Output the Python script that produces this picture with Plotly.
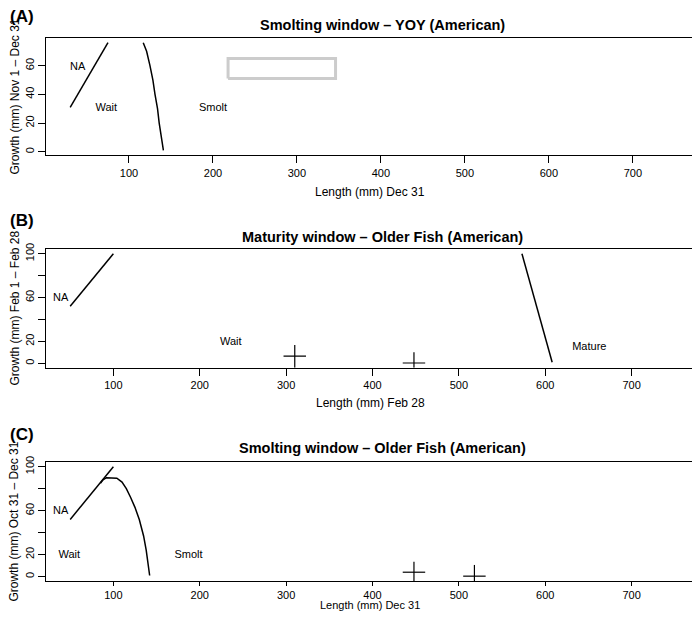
import plotly.graph_objects as go

# ---- data ----
# Panel A: smolting window, YOY
a_na_x = [30, 75]
a_na_y = [31, 76]
a_smolt_x = [117, 121, 125, 128.5, 131, 134, 136, 138.5, 141]
a_smolt_y = [76, 70, 60, 50, 40, 30, 20, 10, 1]
a_box_x = [218, 346, 346, 218, 218]
a_box_y = [51, 51, 65, 65, 51]
a_lab = ["NA", "Wait", "Smolt"]
a_lab_x = [39, 73, 200]
a_lab_y = [59, 30, 30]

# Panel B: maturity window, older fish
b_na_x = [50, 100]
b_na_y = [52, 100]
b_mat_x = [573, 608]
b_mat_y = [100, 1]
b_pt_x = [310, 448]
b_pt_y = [6.5, 0.3]
b_pt_xerr = [13, 13]
b_pt_yhi = [16.7, 10]
b_pt_ylo = [-4, -4]
b_lab = ["NA", "Wait", "Mature"]
b_lab_x = [39, 236, 651]
b_lab_y = [59.5, 19, 15]

# Panel C: smolting window, older fish
c_na_x = [50, 100]
c_na_y = [52, 100]
c_smolt_x = [85, 88, 92, 100, 104, 110, 115, 120, 125, 130, 135, 138, 140, 142]
c_smolt_y = [85, 88, 90, 90, 89.5, 86, 80, 72, 63, 52, 37, 24, 12, 1]
c_pt_x = [448, 518]
c_pt_y = [4, 0.4]
c_pt_xerr = [13, 13]
c_pt_yhi = [13.6, 10.6]
c_pt_ylo = [-4, -4]
c_lab = ["NA", "Wait", "Smolt"]
c_lab_x = [39, 49, 187]
c_lab_y = [59.5, 19, 19]

x_ticks = [100, 200, 300, 400, 500, 600, 700]

FONT = "Liberation Sans, Arial, Helvetica, sans-serif"
# page body keeps its 8px margin, so the figure is sized to fill the window exactly
OFF = 8
W, H = 700 - OFF, 621 - 2 * OFF


def px(x):
    return (x - OFF) / W


def py(y):
    return 1 - (y - OFF) / H


fig = go.Figure()


def line(x, y, ax, color="black", width=1.5):
    fig.add_trace(go.Scatter(x=x, y=y, mode="lines", xaxis="x" + ax, yaxis="y" + ax,
                             line=dict(color=color, width=width), showlegend=False,
                             hoverinfo="skip"))


def labels(x, y, t, ax):
    fig.add_trace(go.Scatter(x=x, y=y, text=t, mode="text", xaxis="x" + ax, yaxis="y" + ax,
                             textfont=dict(family=FONT, size=11, color="black"),
                             showlegend=False, hoverinfo="skip"))


def crosses(x, y, xerr, yhi, ylo, ax):
    fig.add_trace(go.Scatter(
        x=x, y=y, mode="markers", xaxis="x" + ax, yaxis="y" + ax,
        marker=dict(size=1, color="rgba(0,0,0,0)"), showlegend=False,
        error_x=dict(type="data", array=xerr, color="black", thickness=1.2, width=0),
        error_y=dict(type="data", symmetric=False,
                     array=[h - v for h, v in zip(yhi, y)],
                     arrayminus=[v - l for v, l in zip(y, ylo)],
                     color="black", thickness=1.2, width=0)))


# panel A
line(a_na_x, a_na_y, "")
line(a_smolt_x, a_smolt_y, "")
line(a_box_x, a_box_y, "", color="#cccccc", width=3)
labels(a_lab_x, a_lab_y, a_lab, "")
# panel B
line(b_na_x, b_na_y, "2")
line(b_mat_x, b_mat_y, "2")
crosses(b_pt_x, b_pt_y, b_pt_xerr, b_pt_yhi, b_pt_ylo, "2")
labels(b_lab_x, b_lab_y, b_lab, "2")
# panel C
line(c_na_x, c_na_y, "3")
line(c_smolt_x, c_smolt_y, "3")
crosses(c_pt_x, c_pt_y, c_pt_xerr, c_pt_yhi, c_pt_ylo, "3")
labels(c_lab_x, c_lab_y, c_lab, "3")

axis_common = dict(showline=True, mirror=True, linecolor="black", linewidth=1.2,
                   ticks="outside", ticklen=7, tickwidth=1.2, tickcolor="black",
                   showgrid=False, zeroline=False, automargin=False,
                   tickfont=dict(family=FONT, size=11, color="black"))

xdom = [px(46), px(699)]
panels = [
    ("", [py(155.3), py(38)], [1.2, 778.8], [-2.5, 79.3], [0, 20, 40, 60], ["0", "20", "40", "60"], 7),
    ("2", [py(367.7), py(249.3)], [22, 778], [-4, 104], [0, 20, 40, 60, 80, 100],
     ["0", "20", "", "60", "", "100"], 7),
    ("3", [py(581), py(462.3)], [22, 778], [-4, 104], [0, 20, 40, 60, 80, 100],
     ["0", "20", "", "60", "", "100"], 4),
]
layout = dict(width=W, height=H, margin=dict(l=0, r=0, t=0, b=0, pad=0),
              paper_bgcolor="white", plot_bgcolor="white", showlegend=False)
for ax, ydom, xr, yr, yv, yt, xtl in panels:
    n = ax if ax else ""
    layout["xaxis" + n] = dict(axis_common, domain=xdom, range=xr, tickvals=x_ticks,
                               ticklen=xtl, anchor="y" + n)
    layout["yaxis" + n] = dict(axis_common, domain=ydom, range=yr, tickvals=yv, ticktext=yt,
                               tickangle=-90, anchor="x" + n)
fig.update_layout(**layout)

titles = [
    ("Smolting window \u2013 YOY (American)", 25),
    ("Maturity window \u2013 Older Fish (American)", 236.7),
    ("Smolting window \u2013 Older Fish (American)", 448.3),
]
tags = [("(A)", 17), ("(B)", 220), ("(C)", 434)]
xtitles = [("Length (mm) Dec 31", 192, 12), ("Length (mm) Feb 28", 403, 12),
           ("Length (mm) Dec 31", 605, 11)]
ytitles = [("Growth (mm) Nov 1 \u2013 Dec 31", 96.5), ("Growth (mm) Feb 1 \u2013 Feb 28", 308.5),
           ("Growth (mm) Oct 31 \u2013 Dec 31", 521.6)]

ann = []
base = dict(xref="paper", yref="paper", showarrow=False, xanchor="center", yanchor="middle")
for t, y in titles:
    ann.append(dict(base, text="<b>%s</b>" % t, x=px(382), y=py(y),
                    font=dict(family=FONT, size=14.5, color="black")))
for t, y in tags:
    ann.append(dict(base, text="<b>%s</b>" % t, x=px(OFF), y=py(y), xanchor="left",
                    font=dict(family=FONT, size=17, color="black")))
for t, y, s in xtitles:
    ann.append(dict(base, text=t, x=px(370), y=py(y),
                    font=dict(family=FONT, size=s, color="black")))
for t, y in ytitles:
    ann.append(dict(base, text=t, x=px(14), y=py(y), textangle=-90,
                    font=dict(family=FONT, size=12, color="black")))
fig.update_layout(annotations=ann)

fig.write_html("out.html")
